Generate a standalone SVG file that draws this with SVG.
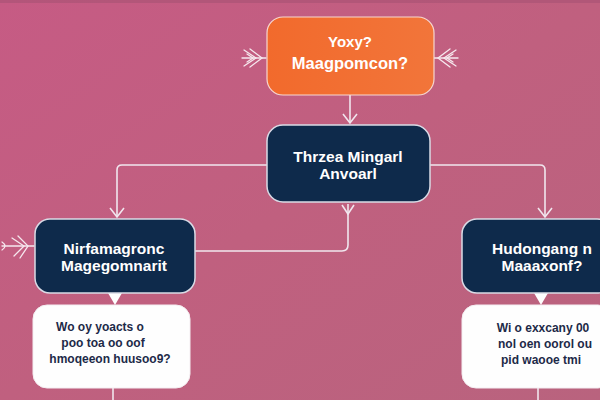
<svg xmlns="http://www.w3.org/2000/svg" width="600" height="400" viewBox="0 0 600 400">
<defs>
<linearGradient id="bg" x1="0" y1="0" x2="1" y2="1">
<stop offset="0" stop-color="#c65b84"/>
<stop offset="0.5" stop-color="#c0607f"/>
<stop offset="1" stop-color="#b9637e"/>
</linearGradient>
<linearGradient id="orange" x1="0" y1="0" x2="1" y2="0">
<stop offset="0" stop-color="#f26a2c"/>
<stop offset="1" stop-color="#f2753a"/>
</linearGradient>
<style>
.navy{fill:#0e2a4b;stroke:#d9dbe6;stroke-width:1.5}
.white{fill:#fefefe;stroke:#f4eef2;stroke-width:1}
.lt{font-family:"Liberation Sans",Arial,sans-serif;font-weight:bold;fill:#ffffff;text-anchor:middle}
.dt{font-family:"Liberation Sans",Arial,sans-serif;font-weight:bold;fill:#1d2a48;text-anchor:middle;font-size:12px}
.conn{fill:none;stroke:#f1e6ee;stroke-width:1.6}
.feather{fill:none;stroke:#f6e8ee;stroke-width:1.3;stroke-linecap:round}
</style>
</defs>
<rect x="0" y="0" width="600" height="400" fill="url(#bg)"/>
<rect x="0" y="0" width="600" height="3" fill="#a65273" opacity="0.6"/>

<g id="connectors">
<path class="conn" d="M350 95 V122"/>
<path class="conn" d="M343 114 L350 123 L357 114"/>
<path class="conn" d="M267 165 H122 Q117 165 117 170 V216"/>
<path class="conn" d="M110 208 L117 217 L124 208"/>
<path class="conn" d="M430 165 H540 Q545 165 545 170 V216"/>
<path class="conn" d="M538 208 L545 217 L552 208"/>
<path class="conn" d="M348 204 V245 Q348 251 342 251 H195"/>
<path class="conn" d="M342 205 L348 214 L354 205"/>
<path d="M108 293 L122 293 L115 305 Z" fill="#fefefe"/>
<path d="M534 293 L548 293 L541 305 Z" fill="#fefefe"/>
<path class="conn" d="M113 388 V400"/>
<path class="conn" d="M538 388 V400"/>
<g class="feather">
<path d="M242 58 H266"/>
<path d="M244 50 L256 58 L244 66"/>
<path d="M250 49 L262 58 L250 67"/>
<path d="M247 54 L253 58 L247 62"/>
<path d="M458 58 H434"/>
<path d="M456 50 L444 58 L456 66"/>
<path d="M450 49 L438 58 L450 67"/>
<path d="M453 54 L447 58 L453 62"/>
<path d="M2 246 H34"/>
<path d="M12 238 L24 246 L14 256"/>
<path d="M18 236 L28 246 L20 258"/>
<path d="M2 242 Q8 246 2 250"/>
</g>
</g>

<g id="node-top">
<rect x="267" y="17" width="167" height="78" rx="16" fill="url(#orange)" stroke="#f7d7cf" stroke-width="1.2"/>
<text class="lt" x="350" y="47" font-size="15">Yoxy?</text>
<text class="lt" x="350" y="69" font-size="16.5">Maagpomcon?</text>
</g>

<g id="node-middle">
<rect class="navy" x="267" y="125" width="163" height="77" rx="16"/>
<text class="lt" x="348" y="162" font-size="15.5">Thrzea Mingarl</text>
<text class="lt" x="348" y="179" font-size="15.5">Anvoarl</text>
</g>

<g id="node-left">
<rect class="navy" x="35" y="219" width="160" height="74" rx="15"/>
<text class="lt" x="114" y="254" font-size="15.5">Nirfamagronc</text>
<text class="lt" x="114" y="271" font-size="15.5">Magegomnarit</text>
</g>

<g id="node-right">
<rect class="navy" x="462" y="219" width="150" height="74" rx="15"/>
<text class="lt" x="542" y="254" font-size="15.5">Hudongang n</text>
<text class="lt" x="542" y="271" font-size="15.5">Maaaxonf?</text>
</g>

<g id="box-left">
<rect class="white" x="33" y="305" width="157" height="83" rx="14"/>
<text class="dt" x="100" y="331">Wo oy  yoacts o</text>
<text class="dt" x="103" y="347">poo toa oo oof</text>
<text class="dt" x="110" y="363">hmoqeeon huusoo9?</text>
</g>

<g id="box-right">
<rect class="white" x="462" y="305" width="150" height="83" rx="14"/>
<text class="dt" x="543" y="332">Wi o exxcany 00</text>
<text class="dt" x="545" y="348">nol oen oorol ou</text>
<text class="dt" x="541" y="364">pid waooe tmi</text>
</g>
</svg>
